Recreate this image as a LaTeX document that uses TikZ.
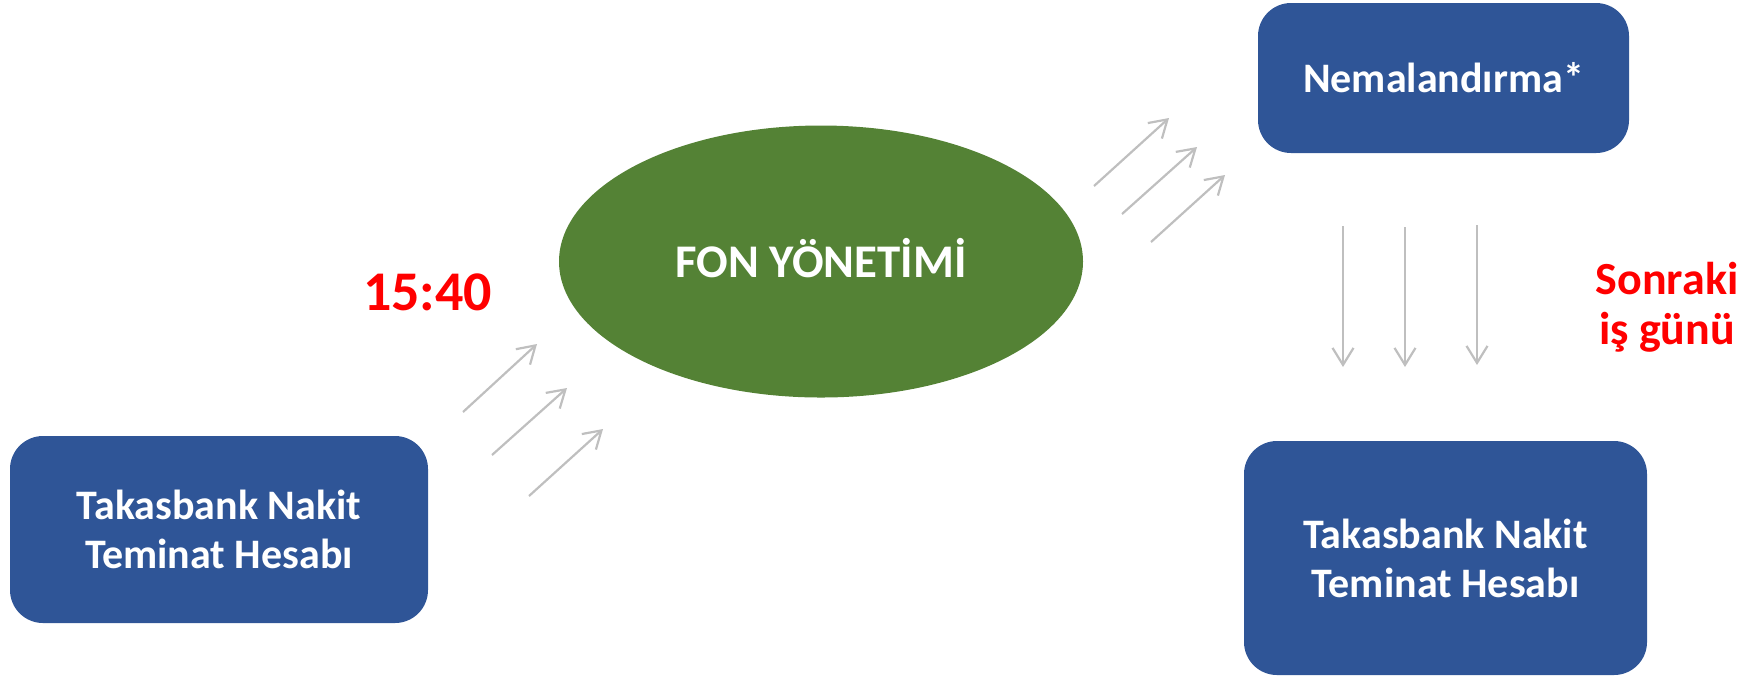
\documentclass[tikz,border=0pt]{standalone}
\usepackage{fontspec}
\setmainfont{Carlito}
\usepackage{tikz}
\usetikzlibrary{positioning,arrows.meta}
\usetikzlibrary{shapes.geometric}
\definecolor{myblue}{RGB}{47,85,151}
\definecolor{mygreen}{RGB}{84,130,53}
\definecolor{myred}{RGB}{255,0,0}
\definecolor{mygray}{RGB}{191,191,191}

\begin{document}
\begin{tikzpicture}[x=0.5pt,y=-0.5pt,
	every node/.style={align=center,font=\bfseries\fontsize{21}{24.5}\selectfont},
	accnode/.style={rectangle,rounded corners=16.5pt,fill=myblue,text=white},
	fonnode/.style={ellipse,fill=mygreen,text=white,inner sep=0pt,text depth=4pt,
		minimum width=262pt,minimum height=136pt},
	timenode/.style={text=myred},
	flow/.style={draw=mygray,line width=1.1pt,-{Straight Barb[length=8.5pt,width=10.5pt]}}
	]
	\useasboundingbox (0,0) rectangle (1760,677);
	
	% the accounts
	\node[accnode,minimum width=209pt,minimum height=93.5pt] (takas1) at (219,529.5) {Takasbank Nakit\\Teminat Hesab\i};
	\node[accnode,minimum width=185.5pt,minimum height=75pt] (nema) at (1443.5,78) {Nemaland\i rma*};
	\node[accnode,minimum width=201.5pt,minimum height=117pt] (takas2) at (1445.5,558) {Takasbank Nakit\\Teminat Hesab\i};
	
	% the fund
	\node[fonnode,font=\bfseries\fontsize{23.4}{28}\selectfont] (fon) at (821,261.5) {FON YÖNETİMİ};
	
	% the times
	\node[timenode,font=\bfseries\fontsize{28}{32}\selectfont] (saat) at (427.5,292) {15:40};
	\node[timenode,font=\bfseries\fontsize{23}{25}\selectfont] (sonraki) at (1667,307) {Sonraki\\iş günü};
	
	% the ends of the flows
	\coordinate (a1) at (463,412); \coordinate (b1) at (537,344);
	\coordinate (a2) at (492,455); \coordinate (b2) at (567,388);
	\coordinate (a3) at (529,496); \coordinate (b3) at (603,429);
	\coordinate (c1) at (1094,186); \coordinate (d1) at (1169,118);
	\coordinate (c2) at (1122,214); \coordinate (d2) at (1197,147);
	\coordinate (c3) at (1151,242); \coordinate (d3) at (1225,175);
	\coordinate (e1) at (1343,226); \coordinate (f1) at (1343,367);
	\coordinate (e2) at (1405,227); \coordinate (f2) at (1405,367);
	\coordinate (e3) at (1477,225); \coordinate (f3) at (1477,365);
	
	% the flows
	\foreach \i in {1,2,3}
	{
	\draw[flow] (a\i) -- (b\i);
	\draw[flow] (c\i) -- (d\i);
	\draw[flow] (e\i) -- (f\i);
	}
\end{tikzpicture}
\end{document}
